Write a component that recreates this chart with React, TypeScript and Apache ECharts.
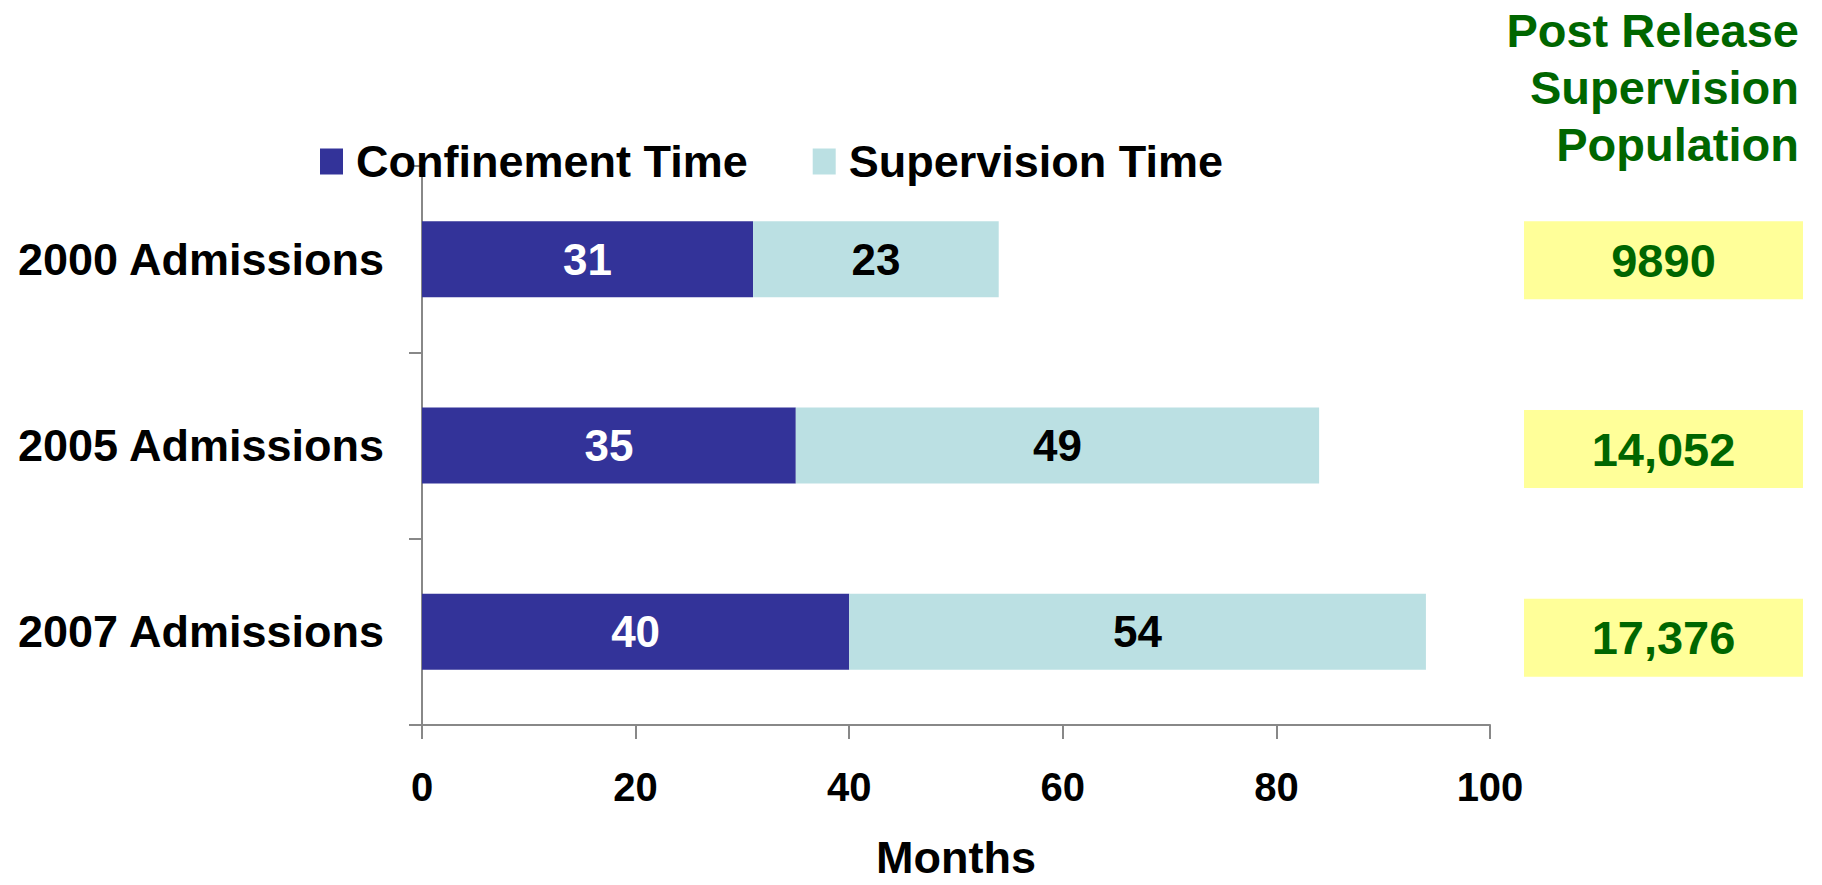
import React, { useEffect, useRef } from 'react';
import * as echarts from 'echarts';

const categories = ['2000 Admissions', '2005 Admissions', '2007 Admissions'];
const seriesNames = ['Confinement Time', 'Supervision Time'];
const confinementTime = [31, 35, 40];
const supervisionTime = [23, 49, 54];
const populationLabels = ['9890', '14,052', '17,376'];
const populationBoxes = [1, 1, 1];
const xAxisName = 'Months';
const populationTitle = 'Post Release\nSupervision\nPopulation';

const FONT = "'Liberation Sans', Arial, Helvetica, sans-serif";
const AXIS_COLOR = '#888888';

export default function App() {
  const ref = useRef<HTMLDivElement>(null);

  useEffect(() => {
    if (!ref.current) return;
    const chart = echarts.init(ref.current, undefined, { renderer: 'svg' });
    const option: any = {
      animation: false,
      backgroundColor: '#ffffff',
      textStyle: { fontFamily: FONT },
      legend: {
        data: seriesNames,
        top: 134,
        left: 315,
        itemWidth: 23,
        itemHeight: 26,
        itemGap: 65,
        icon: 'rect',
        selectedMode: false,
        textStyle: {
          fontFamily: FONT,
          fontSize: 45,
          fontWeight: 'bold',
          color: '#000',
          padding: [0, 0, 0, 8],
        },
      },
      grid: [
        { left: 422, right: 332, top: 166, bottom: 153 },
        { left: 1524, right: 19, top: 166, bottom: 153 },
      ],
      xAxis: [
        {
          gridIndex: 0,
          type: 'value',
          min: 0,
          max: 100,
          interval: 20,
          axisLine: { show: true, lineStyle: { color: AXIS_COLOR, width: 2 } },
          axisTick: { show: true, length: 14, lineStyle: { color: AXIS_COLOR, width: 2 } },
          splitLine: { show: false },
          axisLabel: {
            margin: 42,
            fontFamily: FONT,
            fontSize: 40,
            fontWeight: 'bold',
            color: '#000',
          },
          name: xAxisName,
          nameLocation: 'middle',
          nameGap: 110,
          nameTextStyle: { fontFamily: FONT, fontSize: 45, fontWeight: 'bold', color: '#000' },
        },
        { gridIndex: 1, type: 'value', min: 0, max: 1, show: false },
      ],
      yAxis: [
        {
          gridIndex: 0,
          type: 'category',
          data: categories,
          inverse: true,
          axisLine: { show: true, lineStyle: { color: AXIS_COLOR, width: 2 } },
          axisTick: { show: true, length: 13, lineStyle: { color: AXIS_COLOR, width: 2 } },
          axisLabel: {
            margin: 38,
            fontFamily: FONT,
            fontSize: 45,
            fontWeight: 'bold',
            color: '#000',
          },
        },
        { gridIndex: 1, type: 'category', data: categories, inverse: true, show: false },
      ],
      series: [
        {
          name: seriesNames[0],
          type: 'bar',
          stack: 'months',
          data: confinementTime,
          barWidth: 76,
          itemStyle: { color: '#333399' },
          label: {
            show: true,
            position: 'inside',
            color: '#ffffff',
            fontFamily: FONT,
            fontSize: 44,
            fontWeight: 'bold',
            textBorderWidth: 0,
          },
        },
        {
          name: seriesNames[1],
          type: 'bar',
          stack: 'months',
          data: supervisionTime,
          barWidth: 76,
          itemStyle: { color: '#BBE0E3' },
          label: {
            show: true,
            position: 'inside',
            color: '#000000',
            fontFamily: FONT,
            fontSize: 44,
            fontWeight: 'bold',
            textBorderWidth: 0,
          },
        },
        {
          name: 'Post Release Supervision Population',
          type: 'bar',
          xAxisIndex: 1,
          yAxisIndex: 1,
          data: populationBoxes,
          barWidth: 78,
          silent: true,
          itemStyle: { color: '#FFFF99' },
          label: {
            show: true,
            position: 'inside',
            formatter: (p: any) => populationLabels[p.dataIndex],
            color: '#006600',
            fontFamily: FONT,
            fontSize: 47,
            fontWeight: 'bold',
            textBorderWidth: 0,
          },
        },
      ],
      graphic: [
        {
          type: 'text',
          right: 23,
          top: 2,
          style: {
            text: populationTitle,
            textAlign: 'right',
            fill: '#006600',
            fontFamily: FONT,
            fontSize: 47,
            fontWeight: 'bold',
            lineHeight: 57,
          },
        },
      ],
    };
    chart.setOption(option);
    return () => chart.dispose();
  }, []);

  return (
    <div
      ref={ref}
      style={{ position: 'absolute', left: 0, top: 0, width: 1822, height: 885 }}
    />
  );
}
